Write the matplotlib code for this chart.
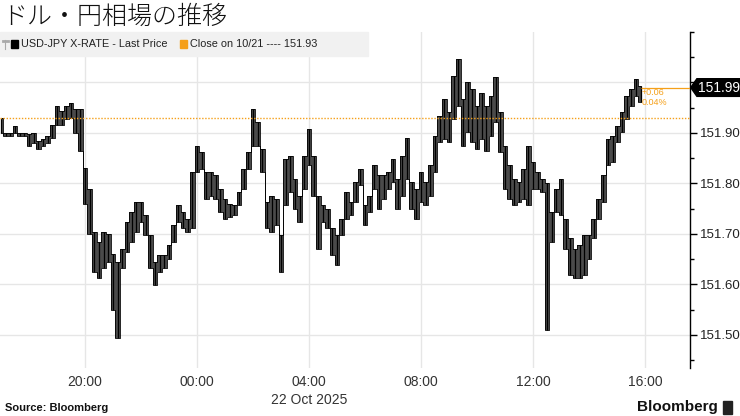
import numpy as np
import pandas as pd
import matplotlib
matplotlib.use("Agg")
import matplotlib.pyplot as plt
import matplotlib.dates as mdates
from matplotlib.patches import Rectangle, Polygon

plt.rcParams['font.family'] = ['Liberation Sans', 'DejaVu Sans']

# 10-minute bars, 21 Oct 17:00 -> 22 Oct 15:50 (Tokyo time)
bar_start = "2025-10-21 17:00"
highs = [151.930, 151.900, 151.900, 151.913, 151.900, 151.899, 151.898, 151.900, 151.885, 151.888,
         151.895, 151.915, 151.954, 151.944, 151.954, 151.960, 151.947, 151.947, 151.830, 151.790,
         151.704, 151.684, 151.704, 151.700, 151.660, 151.645, 151.671, 151.724, 151.743, 151.763,
         151.763, 151.737, 151.697, 151.645, 151.658, 151.658, 151.678, 151.717, 151.757, 151.743,
         151.730, 151.822, 151.875, 151.862, 151.822, 151.822, 151.816, 151.790, 151.770, 151.760,
         151.757, 151.783, 151.829, 151.862, 151.947, 151.921, 151.868, 151.763, 151.776, 151.770,
         151.697, 151.849, 151.855, 151.809, 151.776, 151.855, 151.908, 151.855, 151.776, 151.757,
         151.750, 151.711, 151.697, 151.730, 151.783, 151.763, 151.803, 151.829, 151.757, 151.776,
         151.836, 151.816, 151.816, 151.822, 151.849, 151.809, 151.855, 151.891, 151.803, 151.790,
         151.822, 151.803, 151.836, 151.895, 151.934, 151.967, 151.941, 152.013, 152.046, 151.967,
         152.000, 151.987, 151.954, 151.980, 151.954, 151.974, 152.010, 151.941, 151.875, 151.836,
         151.809, 151.803, 151.829, 151.875, 151.842, 151.822, 151.809, 151.800, 151.743, 151.790,
         151.809, 151.730, 151.691, 151.671, 151.678, 151.697, 151.697, 151.730, 151.770, 151.816,
         151.888, 151.895, 151.914, 151.941, 151.974, 151.987, 152.007, 151.993]
lows = [151.900, 151.895, 151.895, 151.900, 151.895, 151.894, 151.875, 151.880, 151.868, 151.875,
        151.880, 151.890, 151.915, 151.915, 151.928, 151.930, 151.900, 151.865, 151.760, 151.700,
        151.625, 151.612, 151.632, 151.645, 151.550, 151.493, 151.632, 151.664, 151.684, 151.704,
        151.724, 151.697, 151.632, 151.599, 151.625, 151.632, 151.651, 151.684, 151.724, 151.711,
        151.704, 151.711, 151.822, 151.829, 151.770, 151.776, 151.770, 151.743, 151.730, 151.734,
        151.737, 151.757, 151.790, 151.829, 151.875, 151.875, 151.822, 151.711, 151.704, 151.717,
        151.625, 151.757, 151.783, 151.750, 151.724, 151.790, 151.836, 151.776, 151.671, 151.724,
        151.711, 151.658, 151.638, 151.697, 151.730, 151.737, 151.763, 151.796, 151.717, 151.743,
        151.790, 151.750, 151.770, 151.790, 151.803, 151.750, 151.776, 151.809, 151.750, 151.730,
        151.763, 151.757, 151.776, 151.822, 151.882, 151.888, 151.882, 151.928, 151.954, 151.875,
        151.901, 151.882, 151.868, 151.888, 151.865, 151.895, 151.921, 151.862, 151.790, 151.770,
        151.757, 151.763, 151.770, 151.757, 151.790, 151.790, 151.783, 151.510, 151.684, 151.743,
        151.737, 151.671, 151.618, 151.612, 151.612, 151.618, 151.651, 151.691, 151.730, 151.763,
        151.836, 151.842, 151.882, 151.901, 151.928, 151.954, 151.974, 151.961]
prev_close = 151.93
last_price = 151.99
change = "+0.06"
change_pct = "0.04%"

y_ticks = [151.50, 151.60, 151.70, 151.80, 151.90, 152.00]
x_tick_times = ["2025-10-21 20:00", "2025-10-22 00:00", "2025-10-22 04:00",
                "2025-10-22 08:00", "2025-10-22 12:00", "2025-10-22 16:00"]

times = pd.date_range(bar_start, periods=len(highs), freq="10min")
t = mdates.date2num(times.to_pydatetime())
hi = np.array(highs)
lo = np.array(lows)

orange = "#f5a01a"

fig = plt.figure(figsize=(7.4, 4.16), dpi=100)
ax = fig.add_axes([0.0, 1 - 368 / 416, 690 / 740, 336 / 416])

# price ribbon: grey body, black outline and high-low strokes
ax.fill_between(t, lo, hi, step="mid", color="#4a4a4a", lw=0, zorder=3)
ax.step(t, hi, where="mid", color="black", lw=0.6, zorder=4)
ax.step(t, lo, where="mid", color="black", lw=0.6, zorder=4)
ax.vlines(t, lo, hi, color="black", lw=0.9, zorder=4)

ax.axhline(prev_close, color=orange, lw=1.0, ls=(0, (1, 1.2)), zorder=5)

x_ticks = mdates.date2num(pd.to_datetime(x_tick_times).to_pydatetime())
xmin = mdates.date2num(pd.Timestamp("2025-10-21 16:58").to_pydatetime())
xmax = mdates.date2num(pd.Timestamp("2025-10-22 17:36").to_pydatetime())
ax.set_xlim(xmin, xmax)
ax.set_ylim(151.4345, 152.097)

# orange line from last bar to the right axis
ax.hlines(last_price, t[-1], xmax, color=orange, lw=0.9, zorder=5)

ax.set_xticks(x_ticks)
ax.set_xticklabels([s[-5:] for s in x_tick_times])
ax.set_yticks(y_ticks)
ax.set_yticklabels([f"{v:.2f}" for v in y_ticks])
ax.set_yticks(np.arange(151.45, 152.11, 0.05), minor=True)
ax.yaxis.tick_right()
ax.tick_params(axis="y", which="major", length=5, width=1, color="black",
               labelsize=9.5, labelcolor="#222222", pad=2)
ax.tick_params(axis="y", which="minor", length=3, width=1, color="black")
ax.tick_params(axis="x", length=0, labelsize=10, labelcolor="#333333", pad=5)

ax.grid(True, which="major", color="#e6e6e6", lw=1)
ax.set_axisbelow(True)
for s in ["left", "top", "bottom"]:
    ax.spines[s].set_visible(False)
ax.spines["right"].set_color("black")
ax.spines["right"].set_linewidth(1)

ax.text(mdates.date2num(pd.Timestamp("2025-10-22 04:00").to_pydatetime()), -0.075,
        "22 Oct 2025", transform=ax.get_xaxis_transform(), ha="center", va="top",
        fontsize=10, color="#333333")

# change annotation
ax.text(t[-1] + 0.002, last_price - 0.010, change, color=orange, fontsize=6.5,
        ha="left", va="center", zorder=6)
ax.text(t[-1] + 0.002, last_price - 0.030, change_pct, color=orange, fontsize=6.5,
        ha="left", va="center", zorder=6)

# price tag on the right axis
half = 0.0175
tag = Polygon([(1.001, last_price), (1.010, last_price + half), (1.075, last_price + half),
               (1.075, last_price - half), (1.010, last_price - half)],
              closed=True, color="black", transform=ax.get_yaxis_transform(),
              clip_on=False, zorder=10)
ax.add_patch(tag)
ax.text(1.042, last_price, f"{last_price:.2f}", color="white", fontsize=10,
        ha="center", va="center", transform=ax.get_yaxis_transform(), zorder=11)

# legend band
band_h = 24 / 336
ax.add_patch(Rectangle((0, 1 - band_h), 368 / 690, band_h, transform=ax.transAxes,
                       color="#f1f1f1", zorder=7, clip_on=False))
yb = 1 - band_h / 2
# small grey handle icon
ax.plot([5 / 690, 5 / 690], [yb - 0.014, yb + 0.012], color="#aaaaaa", lw=0.8,
        transform=ax.transAxes, zorder=8)
ax.plot([3.5 / 690, 8 / 690], [yb + 0.008, yb + 0.008], color="#aaaaaa", lw=2.0,
        transform=ax.transAxes, zorder=8)
ax.add_patch(Rectangle((11 / 690, yb - 0.012), 7 / 690, 0.024, transform=ax.transAxes,
                       color="black", zorder=8))
ax.text(21 / 690, yb, "USD-JPY X-RATE - Last Price", transform=ax.transAxes,
        fontsize=7.8, color="#222222", ha="left", va="center", zorder=8)
ax.add_patch(Rectangle((180 / 690, yb - 0.012), 7 / 690, 0.024, transform=ax.transAxes,
                       color=orange, zorder=8))
ax.text(190 / 690, yb, f"Close on 10/21 ---- {prev_close:.2f}", transform=ax.transAxes,
        fontsize=7.8, color="#222222", ha="left", va="center", zorder=8)

# title and footer
fig.text(0.003, 1 - 17 / 416, "ドル・円相場の推移", fontsize=18,
         family=["Noto Sans CJK JP", "DejaVu Sans"], weight="light",
         ha="left", va="center", color="#111111")
fig.text(0.007, 1 - 408 / 416, "Source: Bloomberg", fontsize=8, weight="bold",
         ha="left", va="center", color="#111111")
fig.text(718 / 740, 1 - 407 / 416, "Bloomberg", fontsize=11, weight="bold",
         ha="right", va="center", color="#111111")
fig.patches.append(Rectangle((723 / 740, 1 - 414 / 416), 9 / 740, 13 / 416,
                             transform=fig.transFigure, color="#222222"))

fig.savefig("out.png", dpi=100)
